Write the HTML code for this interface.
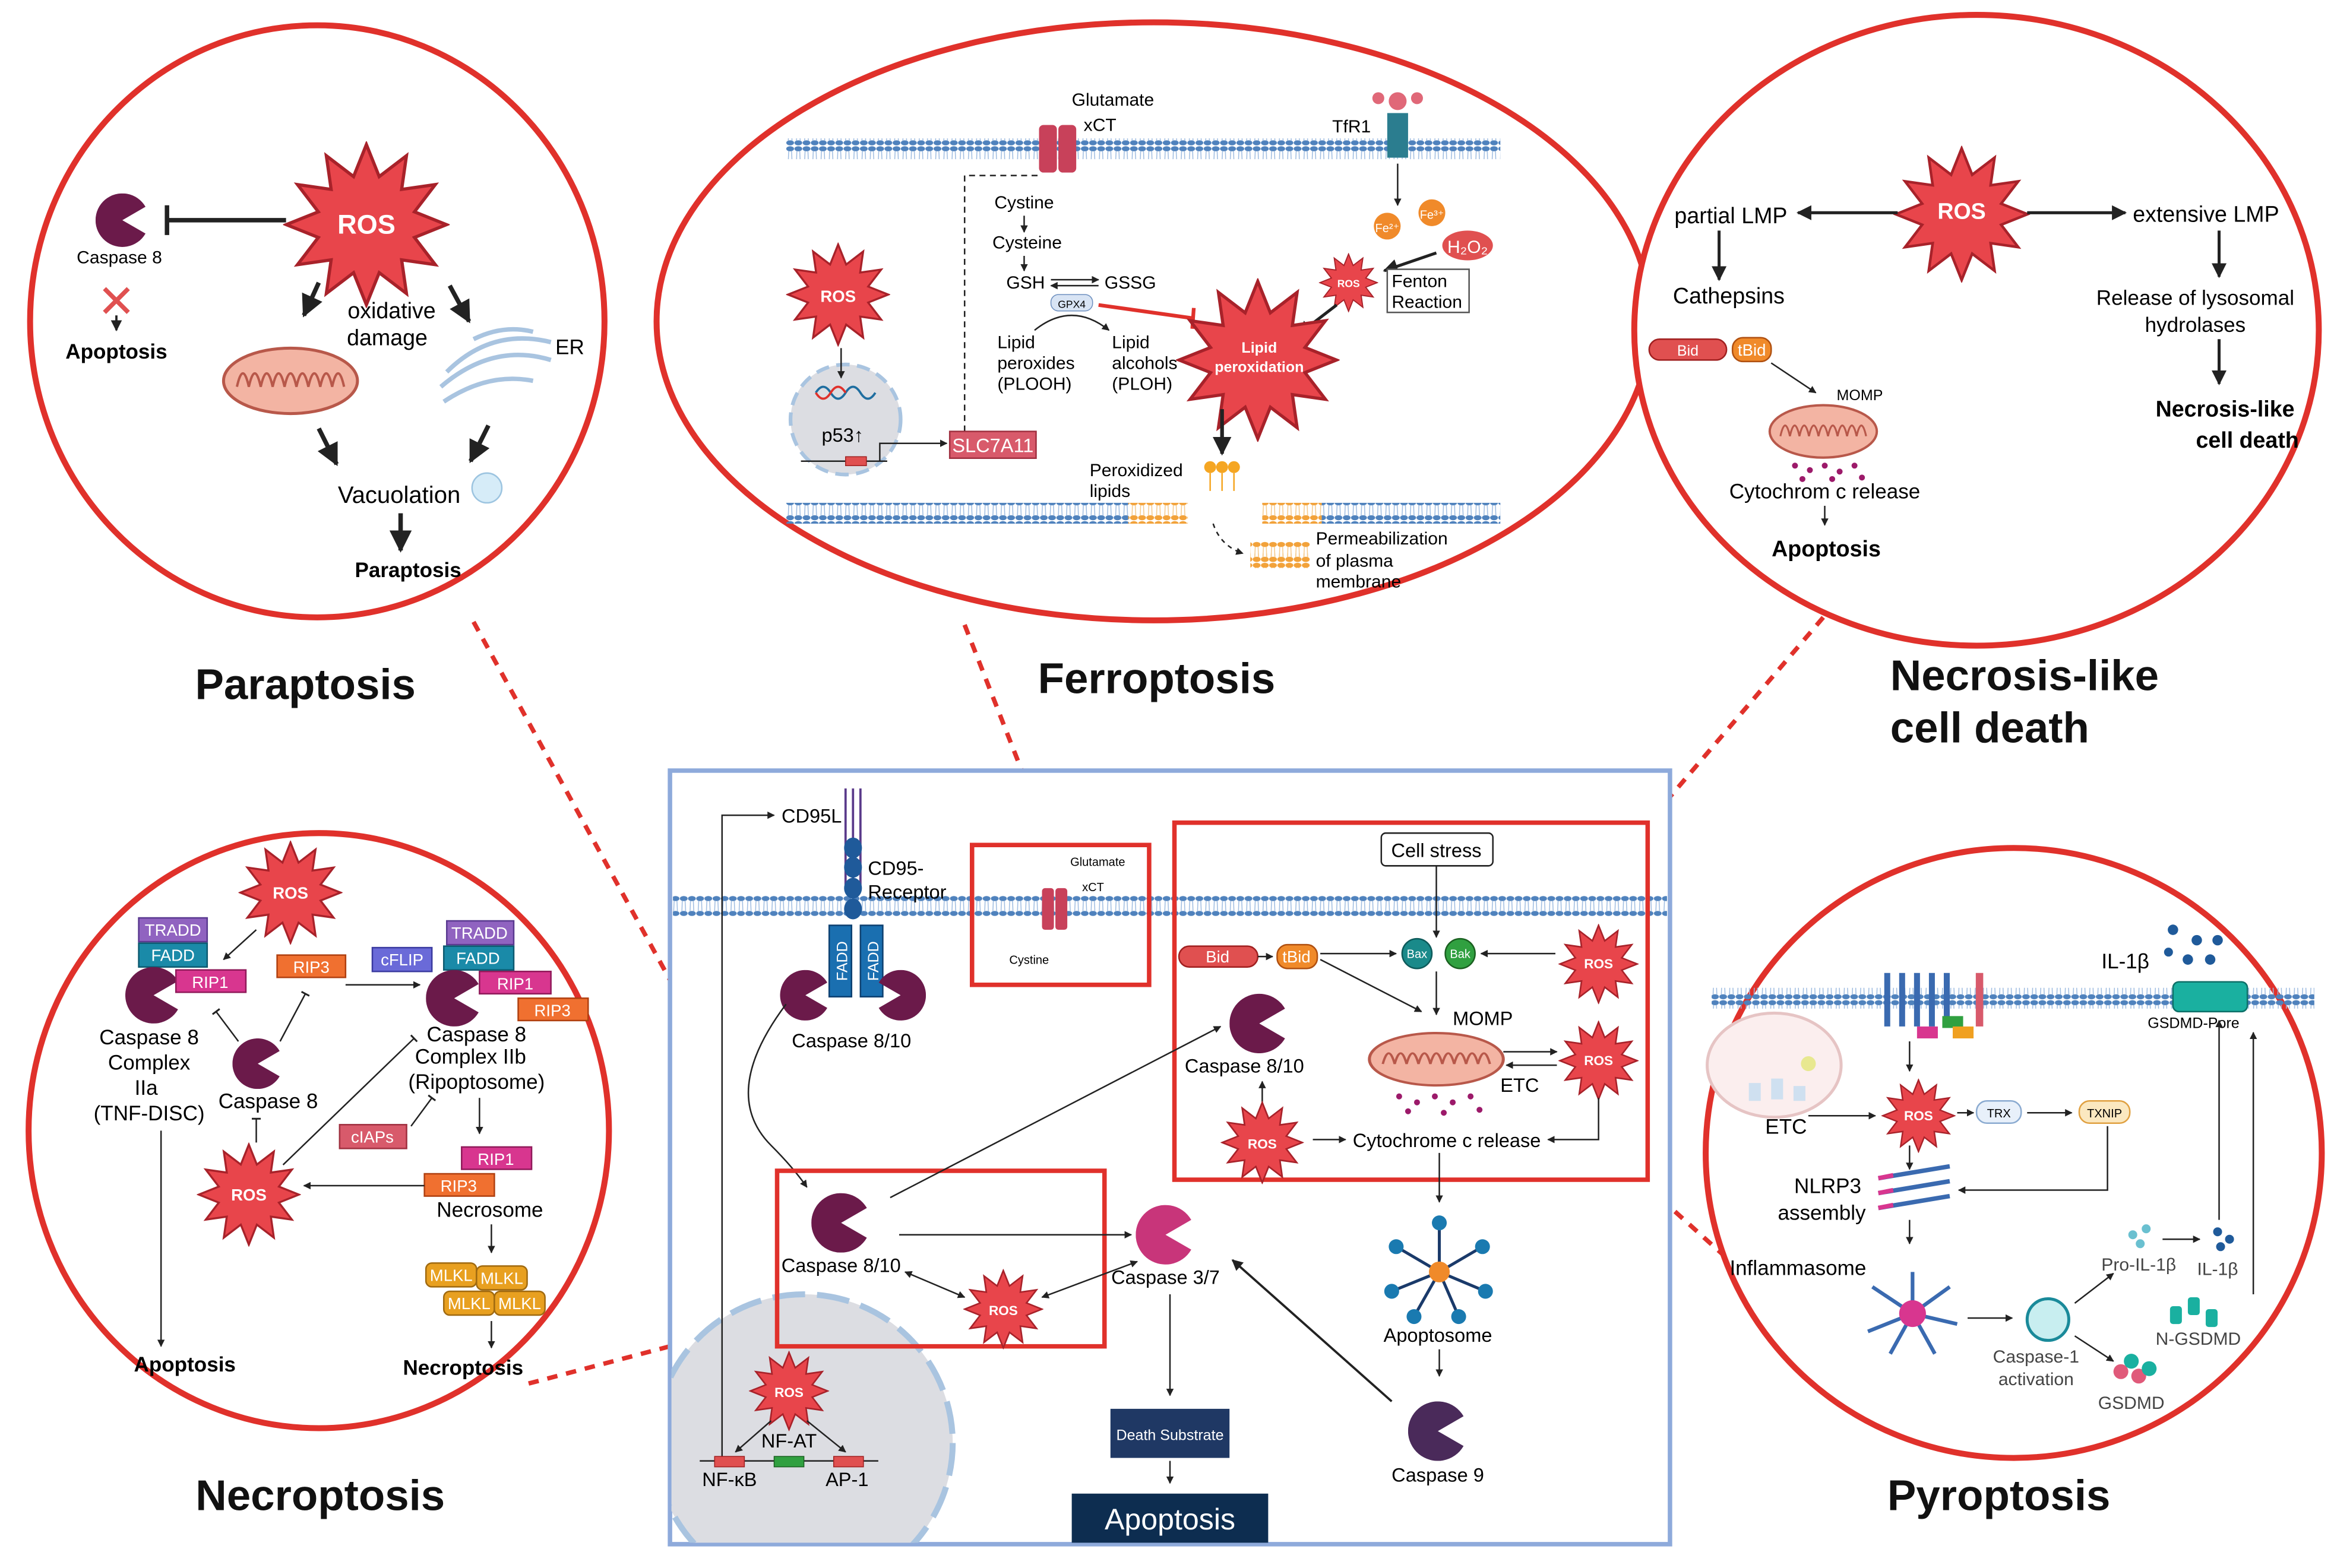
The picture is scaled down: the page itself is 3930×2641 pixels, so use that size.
<!DOCTYPE html>
<html><head><meta charset="utf-8"><style>html,body{margin:0;padding:0;background:#fff}svg{display:block}text{font-family:"Liberation Sans",sans-serif}</style></head><body>
<svg width="3930" height="2641" viewBox="0 0 1568 1054" xmlns="http://www.w3.org/2000/svg">
<defs>
<symbol id="star" viewBox="-52 -52 104 104"><polygon fill="#e8454b" stroke="#a8222a" stroke-width="2" points="50,0 30,8 43,25 22,22 25,43 8,30 0,50 -8,30 -25,43 -22,22 -43,25 -30,8 -50,0 -30,-8 -43,-25 -22,-22 -25,-43 -8,-30 0,-50 8,-30 25,-43 22,-22 43,-25 30,-8"/></symbol>
<symbol id="pac" viewBox="-20 -20 40 40"><path d="M0,0 L17.3,-10 A20,20 0 1,0 17.3,10 Z"/></symbol>
<pattern id="mem" width="5.5" height="14" patternUnits="userSpaceOnUse"><ellipse cx="2.75" cy="2" rx="2.6" ry="1.7" fill="#4f82bd"/><ellipse cx="2.75" cy="12" rx="2.6" ry="1.7" fill="#4f82bd"/><path d="M1.8,3.5 L1.5,10.5 M3.7,3.5 L4,10.5" stroke="#9dbbe0" stroke-width="0.6"/></pattern>
<pattern id="memo" width="5.5" height="14" patternUnits="userSpaceOnUse"><ellipse cx="2.75" cy="2" rx="2.6" ry="1.7" fill="#f2a23a"/><ellipse cx="2.75" cy="12" rx="2.6" ry="1.7" fill="#f2a23a"/><path d="M1.8,3.5 L1.5,10.5 M3.7,3.5 L4,10.5" stroke="#f5c98a" stroke-width="0.6"/></pattern>
<marker id="ar" viewBox="0 0 10 10" refX="9" refY="5" markerWidth="5" markerHeight="5" orient="auto-start-reverse"><path d="M0,0 L10,5 L0,10 Z" fill="#222"/></marker>
<marker id="tb" viewBox="0 0 10 10" refX="5" refY="5" markerWidth="6" markerHeight="6" orient="auto"><path d="M5,0 L5,10" stroke="#222" stroke-width="2"/></marker>
<g id="mito"><ellipse cx="0" cy="0" rx="45" ry="22" fill="#f3b4a3" stroke="#b8584a" stroke-width="2"/><path d="M-36,4 q4,-18 8,0 q4,-18 8,0 q4,-18 8,0 q4,-18 8,0 q4,-18 8,0 q4,-18 8,0 q4,-18 8,0 q4,-18 8,0 q4,-18 8,0" fill="none" stroke="#b8584a" stroke-width="1.6"/></g>
</defs>

<!-- dashed connector lines -->
<g stroke="#e0312b" stroke-width="3" stroke-dasharray="7,6" fill="none">
<line x1="318" y1="418" x2="522" y2="790"/>
<line x1="648" y1="420" x2="706" y2="568"/>
<line x1="1225" y1="415" x2="1108" y2="552"/>
<line x1="355" y1="930" x2="522" y2="886"/>
<line x1="1106" y1="797" x2="1165" y2="850"/>
</g>

<!-- big circles -->
<g fill="#fff" stroke="#e0312b" stroke-width="4">
<ellipse cx="213" cy="216" rx="193" ry="199"/>
<ellipse cx="775" cy="216" rx="334" ry="201"/>
<ellipse cx="1328" cy="222" rx="230" ry="212"/>
<ellipse cx="214" cy="760" rx="195" ry="200"/>
<ellipse cx="1353" cy="775" rx="207" ry="205"/>
</g>

<!-- Titles -->
<g font-weight="bold" font-size="29" fill="#111">
<text x="205" y="470" text-anchor="middle">Paraptosis</text>
<text x="777" y="466" text-anchor="middle">Ferroptosis</text>
<text x="1270" y="464">Necrosis-like</text>
<text x="1270" y="499">cell death</text>
<text x="215" y="1015" text-anchor="middle">Necroptosis</text>
<text x="1343" y="1015" text-anchor="middle">Pyroptosis</text>
</g>

<!-- ============ PARAPTOSIS ============ -->
<use href="#pac" x="64" y="130" width="36" height="36" fill="#6b1a4a"/>
<text x="80" y="177" font-size="12" text-anchor="middle">Caspase 8</text>
<path d="M70,194 l16,16 M86,194 l-16,16" stroke="#e05050" stroke-width="3"/>
<line x1="78" y1="212" x2="78" y2="222" stroke="#222" stroke-width="1.5" marker-end="url(#ar)"/>
<text x="78" y="241" font-size="14" font-weight="bold" text-anchor="middle">Apoptosis</text>
<line x1="112" y1="148" x2="192" y2="148" stroke="#222" stroke-width="3"/>
<line x1="112" y1="138" x2="112" y2="158" stroke="#222" stroke-width="3"/>
<use href="#star" x="190" y="95" width="112" height="112"/>
<text x="246" y="157" font-size="18" font-weight="bold" fill="#fff" text-anchor="middle">ROS</text>
<line x1="214" y1="190" x2="204" y2="212" stroke="#222" stroke-width="3" marker-end="url(#ar)"/>
<line x1="302" y1="192" x2="315" y2="216" stroke="#222" stroke-width="3" marker-end="url(#ar)"/>
<text x="263" y="214" font-size="15" text-anchor="middle">oxidative</text>
<text x="260" y="232" font-size="15" text-anchor="middle">damage</text>
<use href="#mito" x="195" y="256"/>
<g fill="none" stroke="#a9c4e0" stroke-width="3"><path d="M300,250 q30,-30 70,-20"/><path d="M296,260 q35,-30 74,-18"/><path d="M298,270 q30,-20 60,-14"/><path d="M318,228 q20,-10 40,-5"/></g>
<text x="373" y="238" font-size="14">ER</text>
<line x1="214" y1="288" x2="226" y2="312" stroke="#222" stroke-width="3" marker-end="url(#ar)"/>
<line x1="328" y1="286" x2="316" y2="310" stroke="#222" stroke-width="3" marker-end="url(#ar)"/>
<text x="268" y="338" font-size="16" text-anchor="middle">Vacuolation</text>
<circle cx="327" cy="328" r="10" fill="#d6ecf8" stroke="#9cc4e0"/>
<line x1="269" y1="345" x2="269" y2="370" stroke="#222" stroke-width="3" marker-end="url(#ar)"/>
<text x="274" y="388" font-size="14" font-weight="bold" text-anchor="middle">Paraptosis</text>

<!-- ============ FERROPTOSIS ============ -->
<rect x="528" y="93" width="480" height="14" fill="url(#mem)"/>
<rect x="528" y="338" width="230" height="14" fill="url(#mem)"/>
<rect x="758" y="338" width="40" height="14" fill="url(#memo)"/>
<rect x="848" y="338" width="40" height="14" fill="url(#memo)"/>
<rect x="888" y="338" width="120" height="14" fill="url(#mem)"/>
<rect x="840" y="364" width="40" height="14" fill="url(#memo)"/>
<rect x="840" y="372" width="40" height="10" fill="url(#memo)"/>
<path d="M815,352 q5,15 20,20" stroke="#222" stroke-dasharray="3,3" fill="none" marker-end="url(#ar)"/>
<rect x="698" y="84" width="12" height="32" rx="3" fill="#c8415a"/><rect x="711" y="84" width="12" height="32" rx="3" fill="#c8415a"/>
<text x="720" y="71" font-size="12">Glutamate</text>
<text x="728" y="88" font-size="12">xCT</text>
<text x="895" y="89" font-size="12">TfR1</text>
<rect x="932" y="76" width="14" height="30" fill="#2b7d8f"/>
<circle cx="939" cy="68" r="6" fill="#e06878"/><circle cx="926" cy="66" r="4" fill="#e06878"/><circle cx="952" cy="66" r="4" fill="#e06878"/>
<text x="688" y="140" font-size="12" text-anchor="middle">Cystine</text>
<line x1="688" y1="145" x2="688" y2="156" stroke="#222" marker-end="url(#ar)"/>
<text x="690" y="167" font-size="12" text-anchor="middle">Cysteine</text>
<line x1="688" y1="172" x2="688" y2="182" stroke="#222" marker-end="url(#ar)"/>
<text x="676" y="194" font-size="12">GSH</text>
<text x="742" y="194" font-size="12">GSSG</text>
<line x1="706" y1="188" x2="738" y2="188" stroke="#222" marker-end="url(#ar)"/>
<line x1="706" y1="192" x2="738" y2="192" stroke="#222" marker-start="url(#ar)"/>
<rect x="706" y="198" width="28" height="11" rx="5" fill="#d8e4f4" stroke="#6d8fbf" stroke-width="0.6"/><text x="720" y="207" font-size="7" text-anchor="middle">GPX4</text>
<path d="M695,222 q25,-20 50,0" fill="none" stroke="#222" marker-end="url(#ar)"/>
<text x="670" y="234" font-size="12">Lipid</text><text x="670" y="248" font-size="12">peroxides</text><text x="670" y="262" font-size="12">(PLOOH)</text>
<text x="747" y="234" font-size="12">Lipid</text><text x="747" y="248" font-size="12">alcohols</text><text x="747" y="262" font-size="12">(PLOH)</text>
<line x1="738" y1="205" x2="802" y2="214" stroke="#e0312b" stroke-width="2.5"/>
<line x1="802" y1="207" x2="801" y2="221" stroke="#e0312b" stroke-width="2.5"/>
<path d="M648,290 L648,118 L698,118" stroke="#222" stroke-dasharray="4,3" fill="none"/>
<use href="#star" x="528" y="163" width="70" height="70"/>
<text x="563" y="203" font-size="11" font-weight="bold" fill="#fff" text-anchor="middle">ROS</text>
<circle cx="568" cy="282" r="37" fill="#dcdde2" stroke="#a9c4e0" stroke-width="2.5" stroke-dasharray="9,5"/>
<line x1="565" y1="234" x2="565" y2="254" stroke="#222" marker-end="url(#ar)"/>
<path d="M548,264 q5,-8 10,0 t10,0 t10,0 t10,0" stroke="#1f6ea0" stroke-width="1.5" fill="none"/><path d="M548,264 q5,8 10,0 t10,0" stroke="#e0312b" stroke-width="1.5" fill="none"/>
<text x="566" y="297" font-size="13" text-anchor="middle">p53↑</text>
<line x1="538" y1="310" x2="596" y2="310" stroke="#222"/>
<rect x="568" y="307" width="14" height="6" fill="#e05050" stroke="#a02020" stroke-width="0.6"/>
<path d="M591,310 L591,298 L636,298" stroke="#222" fill="none" marker-end="url(#ar)"/>
<rect x="638" y="290" width="58" height="18" fill="#d85a6b" stroke="#a03040"/>
<text x="667" y="304" font-size="13" fill="#fff" text-anchor="middle">SLC7A11</text>
<line x1="939" y1="110" x2="939" y2="138" stroke="#222" marker-end="url(#ar)"/>
<circle cx="932" cy="152" r="9" fill="#f08a2a"/><circle cx="962" cy="143" r="9" fill="#f08a2a"/>
<text x="932" y="156" font-size="8" fill="#fff" text-anchor="middle">Fe²⁺</text><text x="962" y="147" font-size="8" fill="#fff" text-anchor="middle">Fe³⁺</text>
<ellipse cx="986" cy="165" rx="17" ry="10" fill="#e05050"/><text x="986" y="170" font-size="12" fill="#fff" text-anchor="middle">H₂O₂</text>
<line x1="965" y1="170" x2="930" y2="182" stroke="#222" stroke-width="2" marker-end="url(#ar)"/>
<use href="#star" x="886" y="170" width="40" height="40"/><text x="906" y="193" font-size="7" font-weight="bold" fill="#fff" text-anchor="middle">ROS</text>
<rect x="932" y="181" width="55" height="29" fill="#fff" stroke="#555"/>
<text x="935" y="193" font-size="12">Fenton</text><text x="935" y="207" font-size="12">Reaction</text>
<line x1="898" y1="205" x2="872" y2="225" stroke="#222" stroke-width="2" marker-end="url(#ar)"/>
<use href="#star" x="790" y="187" width="110" height="110"/>
<text x="846" y="237" font-size="10" font-weight="bold" fill="#fff" text-anchor="middle">Lipid</text>
<text x="846" y="250" font-size="10" font-weight="bold" fill="#fff" text-anchor="middle">peroxidation</text>
<line x1="821" y1="275" x2="821" y2="305" stroke="#222" stroke-width="2.5" marker-end="url(#ar)"/>
<g fill="#f5a623"><circle cx="813" cy="314" r="4"/><circle cx="821" cy="314" r="4"/><circle cx="829" cy="314" r="4"/></g>
<path d="M813,318 v12 M821,318 v12 M829,318 v12" stroke="#f5a623"/>
<text x="732" y="320" font-size="12">Peroxidized</text><text x="732" y="334" font-size="12">lipids</text>
<text x="884" y="366" font-size="12">Permeabilization</text><text x="884" y="381" font-size="12">of plasma</text><text x="884" y="395" font-size="12">membrane</text>

<!-- ============ NECROSIS ============ -->
<use href="#star" x="1272" y="98" width="92" height="92"/>
<text x="1318" y="147" font-size="15" font-weight="bold" fill="#fff" text-anchor="middle">ROS</text>
<line x1="1275" y1="143" x2="1208" y2="143" stroke="#222" stroke-width="2" marker-end="url(#ar)"/>
<line x1="1362" y1="143" x2="1428" y2="143" stroke="#222" stroke-width="2" marker-end="url(#ar)"/>
<text x="1125" y="150" font-size="15">partial LMP</text>
<text x="1433" y="149" font-size="15">extensive LMP</text>
<line x1="1155" y1="155" x2="1155" y2="188" stroke="#222" stroke-width="2" marker-end="url(#ar)"/>
<text x="1124" y="204" font-size="15">Cathepsins</text>
<rect x="1108" y="228" width="52" height="14" rx="7" fill="#e05050" stroke="#a02020"/><text x="1134" y="239" font-size="10" fill="#fff" text-anchor="middle">Bid</text>
<rect x="1164" y="227" width="26" height="16" rx="7" fill="#f08a2a" stroke="#b05010"/><text x="1177" y="239" font-size="11" fill="#fff" text-anchor="middle">tBid</text>
<path d="M1190,244 q15,10 30,20" stroke="#222" fill="none" marker-end="url(#ar)"/>
<text x="1234" y="269" font-size="10">MOMP</text>
<use href="#mito" x="1225" y="290" transform="translate(1225 290) scale(0.8) translate(-1225 -290)"/>
<g fill="#9c1a6a"><circle cx="1206" cy="313" r="2"/><circle cx="1216" cy="316" r="2"/><circle cx="1226" cy="313" r="2"/><circle cx="1236" cy="317" r="2"/><circle cx="1246" cy="313" r="2"/><circle cx="1211" cy="322" r="2"/><circle cx="1231" cy="322" r="2"/><circle cx="1251" cy="321" r="2"/></g>
<text x="1226" y="335" font-size="14" text-anchor="middle">Cytochrom c release</text>
<line x1="1226" y1="340" x2="1226" y2="353" stroke="#222" marker-end="url(#ar)"/>
<text x="1227" y="374" font-size="15" font-weight="bold" text-anchor="middle">Apoptosis</text>
<line x1="1491" y1="155" x2="1491" y2="186" stroke="#222" stroke-width="2" marker-end="url(#ar)"/>
<text x="1475" y="205" font-size="14" text-anchor="middle">Release of lysosomal</text>
<text x="1475" y="223" font-size="14" text-anchor="middle">hydrolases</text>
<line x1="1491" y1="228" x2="1491" y2="258" stroke="#222" stroke-width="2" marker-end="url(#ar)"/>
<text x="1495" y="280" font-size="15" font-weight="bold" text-anchor="middle">Necrosis-like</text>
<text x="1510" y="301" font-size="15" font-weight="bold" text-anchor="middle">cell death</text>

<!-- ============ NECROPTOSIS ============ -->
<use href="#star" x="160" y="565" width="70" height="70"/>
<text x="195" y="604" font-size="11" font-weight="bold" fill="#fff" text-anchor="middle">ROS</text>
<line x1="172" y1="625" x2="150" y2="645" stroke="#222" marker-end="url(#ar)"/>
<g font-size="11" fill="#fff" text-anchor="middle">
<rect x="93" y="617" width="46" height="16" fill="#9063c0" stroke="#5a3a90"/><text x="116" y="629">TRADD</text>
<rect x="93" y="634" width="46" height="16" fill="#1a8aa8" stroke="#0d5a70"/><text x="116" y="646">FADD</text>
<rect x="186" y="642" width="46" height="15" fill="#f07030" stroke="#b04010"/><text x="209" y="654">RIP3</text>
<rect x="300" y="619" width="45" height="16" fill="#9063c0" stroke="#5a3a90"/><text x="322" y="631">TRADD</text>
<rect x="298" y="636" width="47" height="16" fill="#1a8aa8" stroke="#0d5a70"/><text x="321" y="648">FADD</text>
<rect x="250" y="637" width="40" height="16" fill="#6a6ad8" stroke="#3a3aa0"/><text x="270" y="649">cFLIP</text>
</g>
<use href="#pac" x="84" y="650" width="38" height="38" fill="#6b1a4a"/>
<use href="#pac" x="286" y="652" width="38" height="38" fill="#6b1a4a"/>
<g font-size="11" fill="#fff" text-anchor="middle">
<rect x="118" y="652" width="47" height="15" fill="#d8368f" stroke="#901a5a"/><text x="141" y="664">RIP1</text>
<rect x="322" y="653" width="48" height="15" fill="#d8368f" stroke="#901a5a"/><text x="346" y="665">RIP1</text>
<rect x="348" y="671" width="47" height="15" fill="#f07030" stroke="#b04010"/><text x="371" y="683">RIP3</text>
<rect x="228" y="756" width="45" height="16" fill="#d85a6b" stroke="#a03040"/><text x="250" y="768">cIAPs</text>
<rect x="310" y="771" width="47" height="15" fill="#d8368f" stroke="#901a5a"/><text x="333" y="783">RIP1</text>
<rect x="285" y="789" width="47" height="15" fill="#f07030" stroke="#b04010"/><text x="308" y="801">RIP3</text>
</g>
<line x1="232" y1="662" x2="282" y2="662" stroke="#222" marker-end="url(#ar)"/>
<g font-size="14" text-anchor="middle">
<text x="100" y="702">Caspase 8</text><text x="100" y="719">Complex</text><text x="98" y="736">IIa</text><text x="100" y="753">(TNF-DISC)</text>
<text x="320" y="700">Caspase 8</text><text x="316" y="715">Complex IIb</text><text x="320" y="732">(Ripoptosome)</text>
<text x="180" y="745">Caspase 8</text>
<text x="329" y="818">Necrosome</text>
</g>
<use href="#pac" x="156" y="698" width="34" height="34" fill="#6b1a4a"/>
<line x1="160" y1="700" x2="145" y2="680" stroke="#222" marker-end="url(#tb)"/>
<line x1="188" y1="700" x2="205" y2="668" stroke="#222" marker-end="url(#tb)"/>
<line x1="172" y1="768" x2="172" y2="752" stroke="#222" marker-end="url(#tb)"/>
<use href="#star" x="132" y="768" width="70" height="70"/>
<text x="167" y="807" font-size="11" font-weight="bold" fill="#fff" text-anchor="middle">ROS</text>
<line x1="190" y1="783" x2="278" y2="698" stroke="#222" marker-end="url(#tb)"/>
<line x1="276" y1="757" x2="290" y2="738" stroke="#222" marker-end="url(#tb)"/>
<line x1="285" y1="797" x2="204" y2="797" stroke="#222" marker-end="url(#ar)"/>
<line x1="322" y1="738" x2="322" y2="762" stroke="#222" marker-end="url(#ar)"/>
<line x1="330" y1="823" x2="330" y2="842" stroke="#222" marker-end="url(#ar)"/>
<g font-size="11" fill="#fff" text-anchor="middle">
<rect x="286" y="849" width="34" height="16" rx="4" fill="#e8a020" stroke="#a06a10"/><text x="303" y="861">MLKL</text>
<rect x="320" y="851" width="34" height="16" rx="4" fill="#e8a020" stroke="#a06a10"/><text x="337" y="863">MLKL</text>
<rect x="298" y="868" width="34" height="16" rx="4" fill="#e8a020" stroke="#a06a10"/><text x="315" y="880">MLKL</text>
<rect x="332" y="868" width="34" height="16" rx="4" fill="#e8a020" stroke="#a06a10"/><text x="349" y="880">MLKL</text>
</g>
<line x1="330" y1="888" x2="330" y2="906" stroke="#222" marker-end="url(#ar)"/>
<text x="311" y="924" font-size="14" font-weight="bold" text-anchor="middle">Necroptosis</text>
<line x1="108" y1="760" x2="108" y2="905" stroke="#222" marker-end="url(#ar)"/>
<text x="124" y="922" font-size="14" font-weight="bold" text-anchor="middle">Apoptosis</text>

<!-- ============ CENTRAL ============ -->
<rect x="450" y="518" width="672" height="520" fill="#fff" stroke="#8eaadb" stroke-width="3"/>
<clipPath id="cb"><rect x="451" y="519" width="670" height="518"/></clipPath>
<g clip-path="url(#cb)">
<circle cx="540" cy="970" r="100" fill="#dcdde2" stroke="#a9c4e0" stroke-width="4" stroke-dasharray="22,8"/>
</g>
<rect x="452" y="602" width="668" height="14" fill="url(#mem)"/>
<!-- CD95 -->
<path d="M568,530 v65 M573,530 v65 M578,530 v65" stroke="#5a3a8a" stroke-width="1.5"/>
<g fill="#1f5a9a"><ellipse cx="573" cy="570" rx="6" ry="7"/><ellipse cx="573" cy="583" rx="6" ry="7"/><ellipse cx="573" cy="597" rx="6" ry="7"/><ellipse cx="573" cy="611" rx="6" ry="7"/></g>
<rect x="557" y="622" width="15" height="48" fill="#1a6fb0" stroke="#0d4070"/><rect x="578" y="622" width="15" height="48" fill="#1a6fb0" stroke="#0d4070"/>
<text transform="translate(569,646) rotate(-90)" font-size="10" fill="#fff" text-anchor="middle">FADD</text>
<text transform="translate(590,646) rotate(-90)" font-size="10" fill="#fff" text-anchor="middle">FADD</text>
<use href="#pac" x="524" y="652" width="34" height="34" fill="#6b1a4a"/>
<use href="#pac" x="588" y="652" width="34" height="34" fill="#6b1a4a" transform="translate(1210 0) scale(-1 1)"/>
<text x="572" y="704" font-size="13" text-anchor="middle">Caspase 8/10</text>
<text x="525" y="553" font-size="13">CD95L</text>
<text x="583" y="588" font-size="13">CD95-</text><text x="583" y="604" font-size="13">Receptor</text>
<path d="M485,985 L485,548 L520,548" stroke="#222" fill="none" marker-end="url(#ar)"/>
<path d="M528,675 q-45,60 -10,95 q15,15 24,28" stroke="#222" fill="none" marker-end="url(#ar)"/>
<!-- small box -->
<rect x="653" y="568" width="119" height="94" fill="none" stroke="#e0312b" stroke-width="3"/>
<rect x="700" y="597" width="8" height="28" rx="2" fill="#c8415a"/><rect x="709" y="597" width="8" height="28" rx="2" fill="#c8415a"/>
<text x="719" y="582" font-size="8">Glutamate</text><text x="727" y="599" font-size="8">xCT</text><text x="678" y="648" font-size="8">Cystine</text>
<!-- big red box -->
<rect x="789" y="553" width="318" height="240" fill="none" stroke="#e0312b" stroke-width="3"/>
<rect x="928" y="560" width="75" height="22" rx="3" fill="#fff" stroke="#222"/><text x="965" y="576" font-size="13" text-anchor="middle">Cell stress</text>
<line x1="965" y1="582" x2="965" y2="630" stroke="#222" marker-end="url(#ar)"/>
<rect x="792" y="636" width="53" height="14" rx="7" fill="#e05050" stroke="#a02020"/><text x="818" y="647" font-size="11" fill="#fff" text-anchor="middle">Bid</text>
<rect x="858" y="635" width="27" height="16" rx="7" fill="#f08a2a" stroke="#b05010"/><text x="871" y="647" font-size="11" fill="#fff" text-anchor="middle">tBid</text>
<path d="M845,643 L855,643" stroke="#222" marker-end="url(#ar)"/>
<line x1="887" y1="641" x2="938" y2="641" stroke="#222" marker-end="url(#ar)"/>
<line x1="887" y1="645" x2="955" y2="680" stroke="#222" marker-end="url(#ar)"/>
<circle cx="952" cy="641" r="10" fill="#1a8a8a" stroke="#0d5a5a"/><text x="952" y="644" font-size="8" fill="#fff" text-anchor="middle">Bax</text>
<circle cx="981" cy="641" r="10" fill="#30a040" stroke="#1a6020"/><text x="981" y="644" font-size="8" fill="#fff" text-anchor="middle">Bak</text>
<line x1="1045" y1="641" x2="995" y2="641" stroke="#222" marker-end="url(#ar)"/>
<use href="#star" x="1047" y="621" width="54" height="54"/><text x="1074" y="651" font-size="9" font-weight="bold" fill="#fff" text-anchor="middle">ROS</text>
<use href="#star" x="1047" y="686" width="54" height="54"/><text x="1074" y="716" font-size="9" font-weight="bold" fill="#fff" text-anchor="middle">ROS</text>
<line x1="965" y1="653" x2="965" y2="682" stroke="#222" marker-end="url(#ar)"/>
<use href="#mito" x="965" y="712" transform="translate(965 712) scale(1 0.8) translate(-965 -712)"/>
<g fill="#9c1a6a"><circle cx="940" cy="737" r="2"/><circle cx="952" cy="741" r="2"/><circle cx="964" cy="737" r="2"/><circle cx="976" cy="741" r="2"/><circle cx="988" cy="737" r="2"/><circle cx="946" cy="747" r="2"/><circle cx="970" cy="748" r="2"/><circle cx="994" cy="746" r="2"/></g>
<text x="976" y="689" font-size="13">MOMP</text>
<text x="1008" y="734" font-size="13">ETC</text>
<line x1="1010" y1="707" x2="1046" y2="707" stroke="#222" marker-end="url(#ar)"/>
<line x1="1046" y1="716" x2="1012" y2="716" stroke="#222" marker-end="url(#ar)"/>
<path d="M1074,738 L1074,766 L1040,766" stroke="#222" fill="none" marker-end="url(#ar)"/>
<use href="#pac" x="826" y="668" width="40" height="40" fill="#6b1a4a"/>
<text x="836" y="721" font-size="13" text-anchor="middle">Caspase 8/10</text>
<line x1="848" y1="745" x2="848" y2="727" stroke="#222" marker-end="url(#ar)"/>
<use href="#star" x="820" y="740" width="56" height="56"/><text x="848" y="772" font-size="9" font-weight="bold" fill="#fff" text-anchor="middle">ROS</text>
<line x1="882" y1="766" x2="904" y2="766" stroke="#222" marker-end="url(#ar)"/>
<text x="972" y="771" font-size="13" text-anchor="middle">Cytochrome c release</text>
<line x1="967" y1="775" x2="967" y2="808" stroke="#222" marker-end="url(#ar)"/>
<!-- apoptosome -->
<g stroke="#1a3a6a" stroke-width="2"><line x1="967" y1="855" x2="967" y2="822"/><line x1="967" y1="855" x2="996" y2="838"/><line x1="967" y1="855" x2="998" y2="868"/><line x1="967" y1="855" x2="980" y2="885"/><line x1="967" y1="855" x2="950" y2="885"/><line x1="967" y1="855" x2="935" y2="868"/><line x1="967" y1="855" x2="938" y2="838"/></g>
<g fill="#1a7ab0"><circle cx="967" cy="822" r="5"/><circle cx="996" cy="838" r="5"/><circle cx="998" cy="868" r="5"/><circle cx="980" cy="885" r="5"/><circle cx="950" cy="885" r="5"/><circle cx="935" cy="868" r="5"/><circle cx="938" cy="838" r="5"/></g>
<circle cx="967" cy="855" r="7" fill="#f08a2a"/>
<text x="966" y="902" font-size="13" text-anchor="middle">Apoptosome</text>
<line x1="967" y1="907" x2="967" y2="925" stroke="#222" marker-end="url(#ar)"/>
<use href="#pac" x="946" y="942" width="40" height="40" fill="#4a2a5a"/>
<text x="966" y="996" font-size="13" text-anchor="middle">Caspase 9</text>
<line x1="935" y1="942" x2="828" y2="847" stroke="#222" stroke-width="1.5" marker-end="url(#ar)"/>
<!-- box 2 -->
<rect x="522" y="787" width="220" height="118" fill="none" stroke="#e0312b" stroke-width="3"/>
<use href="#pac" x="545" y="802" width="40" height="40" fill="#6b1a4a"/>
<text x="565" y="855" font-size="13" text-anchor="middle">Caspase 8/10</text>
<line x1="598" y1="805" x2="820" y2="690" stroke="#222" marker-end="url(#ar)"/>
<line x1="604" y1="830" x2="760" y2="830" stroke="#222" marker-end="url(#ar)"/>
<use href="#star" x="647" y="853" width="54" height="54"/><text x="674" y="884" font-size="9" font-weight="bold" fill="#fff" text-anchor="middle">ROS</text>
<line x1="648" y1="872" x2="608" y2="855" stroke="#222" marker-end="url(#ar)" marker-start="url(#ar)"/>
<line x1="700" y1="872" x2="764" y2="848" stroke="#222" marker-end="url(#ar)" marker-start="url(#ar)"/>
<use href="#pac" x="763" y="810" width="40" height="40" fill="#c8357a"/>
<text x="783" y="863" font-size="13" text-anchor="middle">Caspase 3/7</text>
<line x1="786" y1="870" x2="786" y2="938" stroke="#222" marker-end="url(#ar)"/>
<rect x="746" y="947" width="80" height="33" fill="#1f3864"/><text x="786" y="968" font-size="10" fill="#fff" text-anchor="middle">Death Substrate</text>
<line x1="786" y1="982" x2="786" y2="997" stroke="#222" marker-end="url(#ar)"/>
<rect x="720" y="1004" width="132" height="33" fill="#0d2d50"/><text x="786" y="1028" font-size="20" fill="#fff" text-anchor="middle">Apoptosis</text>
<!-- nucleus contents -->
<use href="#star" x="503" y="908" width="54" height="54"/><text x="530" y="939" font-size="9" font-weight="bold" fill="#fff" text-anchor="middle">ROS</text>
<line x1="518" y1="955" x2="494" y2="976" stroke="#222" marker-end="url(#ar)"/>
<line x1="542" y1="955" x2="568" y2="976" stroke="#222" marker-end="url(#ar)"/>
<text x="530" y="973" font-size="13" text-anchor="middle">NF-AT</text>
<line x1="470" y1="982" x2="590" y2="982" stroke="#222"/>
<rect x="480" y="979" width="20" height="7" fill="#e05050" stroke="#a02020" stroke-width="0.6"/>
<rect x="520" y="979" width="20" height="7" fill="#30a040" stroke="#1a6020" stroke-width="0.6"/>
<rect x="560" y="979" width="20" height="7" fill="#e05050" stroke="#a02020" stroke-width="0.6"/>
<text x="490" y="999" font-size="13" text-anchor="middle">NF-κB</text>
<text x="569" y="999" font-size="13" text-anchor="middle">AP-1</text>

<!-- ============ PYROPTOSIS ============ -->
<rect x="1150" y="664" width="405" height="14" fill="url(#mem)"/>
<text x="1428" y="651" font-size="14" text-anchor="middle">IL-1β</text>
<g fill="#1f5a9a"><circle cx="1460" cy="625" r="3.5"/><circle cx="1476" cy="632" r="3.5"/><circle cx="1470" cy="645" r="3.5"/><circle cx="1490" cy="632" r="3.5"/><circle cx="1485" cy="645" r="3.5"/><circle cx="1457" cy="640" r="3"/></g>
<rect x="1460" y="660" width="50" height="20" rx="4" fill="#1ab0a0" stroke="#0d7068"/>
<text x="1443" y="691" font-size="10">GSDMD-Pore</text>
<g stroke="#3a6ab0" stroke-width="4"><line x1="1268" y1="654" x2="1268" y2="690"/><line x1="1278" y1="654" x2="1278" y2="690"/><line x1="1288" y1="654" x2="1288" y2="690"/><line x1="1298" y1="654" x2="1298" y2="690"/><line x1="1308" y1="654" x2="1308" y2="690"/></g>
<path d="M1330,654 v36" stroke="#d85a6b" stroke-width="5"/>
<rect x="1288" y="690" width="14" height="8" fill="#d8368f"/><rect x="1305" y="683" width="14" height="8" fill="#30a040"/><rect x="1312" y="690" width="14" height="8" fill="#f0a020"/>
<ellipse cx="1192" cy="716" rx="45" ry="35" fill="#fbeeee" stroke="#e6c4c4" stroke-width="2"/>
<g fill="#cfe0f0"><rect x="1175" y="728" width="8" height="12"/><rect x="1190" y="725" width="8" height="14"/><rect x="1205" y="730" width="8" height="10"/></g>
<circle cx="1215" cy="715" r="5" fill="#e8e890"/>
<text x="1200" y="762" font-size="14" text-anchor="middle">ETC</text>
<path d="M1215,750 L1260,750" stroke="#222" marker-end="url(#ar)"/>
<line x1="1283" y1="700" x2="1283" y2="720" stroke="#222" marker-end="url(#ar)"/>
<use href="#star" x="1264" y="725" width="50" height="50"/><text x="1289" y="753" font-size="9" font-weight="bold" fill="#fff" text-anchor="middle">ROS</text>
<line x1="1315" y1="748" x2="1326" y2="748" stroke="#222" marker-end="url(#ar)"/>
<rect x="1328" y="740" width="30" height="15" rx="7" fill="#e8f0fa" stroke="#8aaad0"/><text x="1343" y="751" font-size="8" text-anchor="middle">TRX</text>
<line x1="1362" y1="748" x2="1392" y2="748" stroke="#222" marker-end="url(#ar)"/>
<rect x="1397" y="740" width="34" height="15" rx="7" fill="#fbe8c0" stroke="#e0a040"/><text x="1414" y="751" font-size="8" text-anchor="middle">TXNIP</text>
<path d="M1416,757 L1416,800 L1316,800" stroke="#222" fill="none" marker-end="url(#ar)"/>
<line x1="1283" y1="770" x2="1283" y2="786" stroke="#222" marker-end="url(#ar)"/>
<g stroke="#3a6ab0" stroke-width="3"><line x1="1262" y1="792" x2="1310" y2="784"/><line x1="1262" y1="802" x2="1310" y2="794"/><line x1="1262" y1="812" x2="1310" y2="804"/></g>
<g stroke="#d8368f" stroke-width="3"><line x1="1262" y1="792" x2="1272" y2="790"/><line x1="1262" y1="802" x2="1272" y2="800"/><line x1="1262" y1="812" x2="1272" y2="810"/></g>
<text x="1228" y="802" font-size="14" text-anchor="middle">NLRP3</text><text x="1224" y="820" font-size="14" text-anchor="middle">assembly</text>
<line x1="1283" y1="820" x2="1283" y2="836" stroke="#222" marker-end="url(#ar)"/>
<text x="1208" y="857" font-size="14" text-anchor="middle">Inflammasome</text>
<g stroke="#3a6ab0" stroke-width="2.5"><line x1="1285" y1="883" x2="1285" y2="855"/><line x1="1285" y1="883" x2="1310" y2="865"/><line x1="1285" y1="883" x2="1315" y2="890"/><line x1="1285" y1="883" x2="1300" y2="910"/><line x1="1285" y1="883" x2="1270" y2="910"/><line x1="1285" y1="883" x2="1255" y2="895"/><line x1="1285" y1="883" x2="1258" y2="865"/></g>
<circle cx="1285" cy="883" r="9" fill="#d8368f"/>
<line x1="1322" y1="886" x2="1352" y2="886" stroke="#222" marker-end="url(#ar)"/>
<circle cx="1376" cy="887" r="14" fill="#c8eef0" stroke="#1a8a9a" stroke-width="2"/>
<text x="1368" y="916" font-size="12" fill="#444" text-anchor="middle">Caspase-1</text><text x="1368" y="931" font-size="12" fill="#444" text-anchor="middle">activation</text>
<line x1="1394" y1="876" x2="1420" y2="856" stroke="#222" marker-end="url(#ar)"/>
<line x1="1394" y1="898" x2="1420" y2="915" stroke="#222" marker-end="url(#ar)"/>
<g fill="#6ac0d0"><circle cx="1433" cy="830" r="3"/><circle cx="1442" cy="826" r="3"/><circle cx="1438" cy="836" r="3"/></g>
<text x="1437" y="854" font-size="12" fill="#444" text-anchor="middle">Pro-IL-1β</text>
<line x1="1453" y1="833" x2="1478" y2="833" stroke="#222" marker-end="url(#ar)"/>
<g fill="#1f5a9a"><circle cx="1490" cy="828" r="3"/><circle cx="1498" cy="833" r="3"/><circle cx="1492" cy="838" r="3"/></g>
<text x="1490" y="857" font-size="12" fill="#444" text-anchor="middle">IL-1β</text>
<line x1="1491" y1="820" x2="1491" y2="686" stroke="#222" marker-end="url(#ar)"/>
<g fill="#1ab0a0"><rect x="1458" y="878" width="8" height="12" rx="2"/><rect x="1470" y="872" width="8" height="12" rx="2"/><rect x="1482" y="880" width="8" height="12" rx="2"/></g>
<text x="1477" y="904" font-size="12" fill="#444" text-anchor="middle">N-GSDMD</text>
<line x1="1514" y1="870" x2="1514" y2="694" stroke="#222" marker-end="url(#ar)"/>
<g fill="#e05a7a"><circle cx="1425" cy="922" r="5"/><circle cx="1437" cy="925" r="5"/></g><g fill="#1ab0a0"><circle cx="1432" cy="915" r="5"/><circle cx="1444" cy="920" r="5"/></g>
<text x="1432" y="947" font-size="12" fill="#444" text-anchor="middle">GSDMD</text>
</svg>
</body></html>
